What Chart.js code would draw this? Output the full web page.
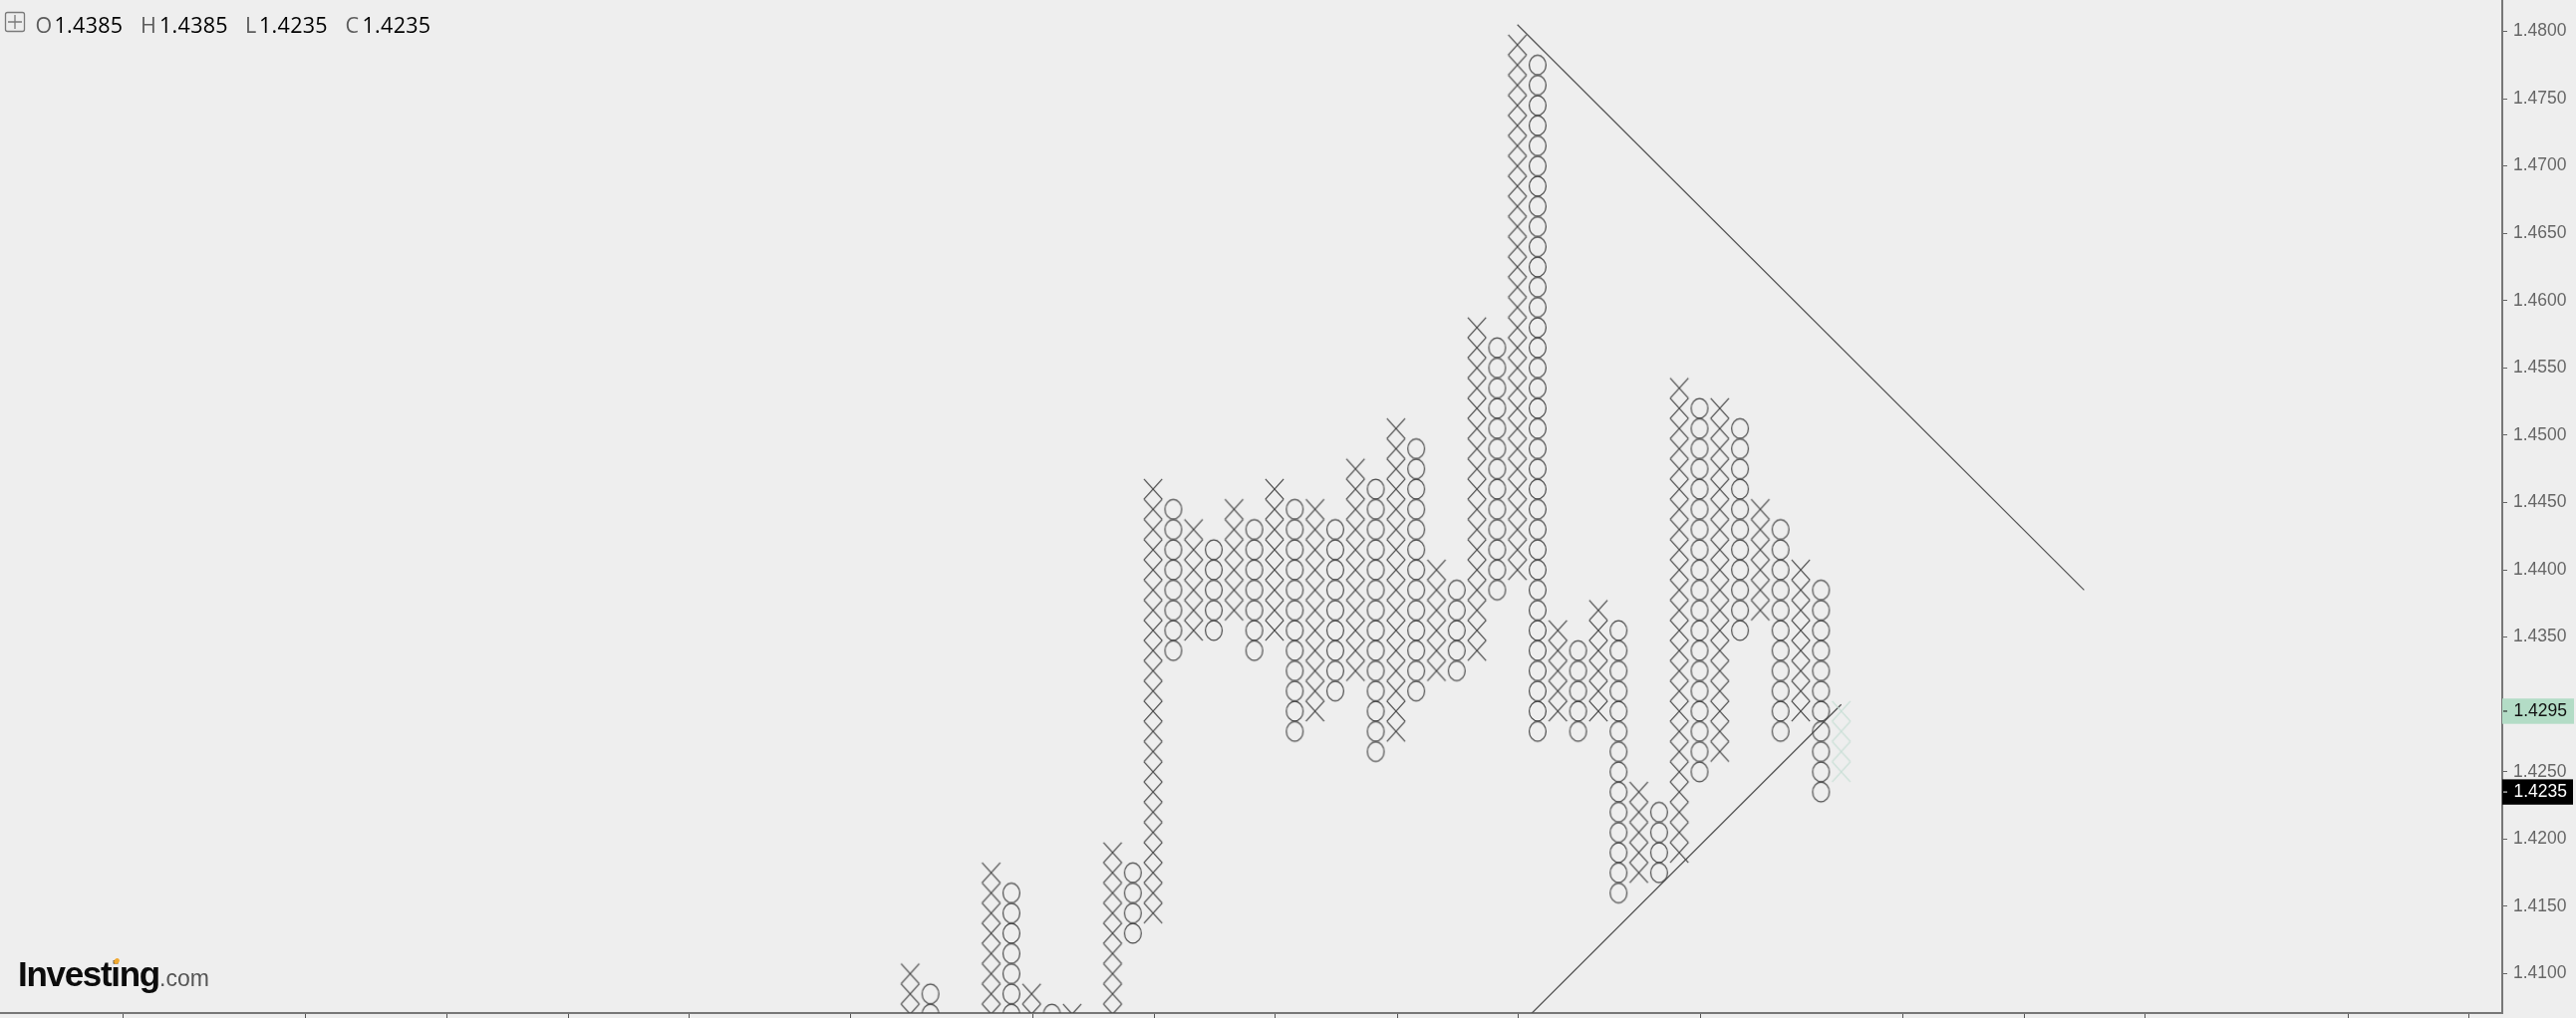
<!DOCTYPE html>
<html>
<head>
<meta charset="utf-8">
<style>
html,body{margin:0;padding:0;background:#eeeeee;overflow:hidden}
canvas{display:block}
</style>
<script src="https://cdn.jsdelivr.net/npm/chart.js@4"></script>
</head>
<body>
<canvas id="c" width="2585" height="1022"></canvas>
<script>
// Point & figure columns: even columns are X, odd columns are O. Box size 0.0015.
const columnHigh = [1.4100,1.4085,null,null,1.4175,1.4160,1.4085,1.4070,1.4070,null,
  1.4190,1.4175,1.4460,1.4445,1.4430,1.4415,1.4445,1.4430,1.4460,1.4445,
  1.4445,1.4430,1.4475,1.4460,1.4505,1.4490,1.4400,1.4385,1.4580,1.4565,
  1.4790,1.4775,1.4355,1.4340,1.4370,1.4355,1.4235,1.4220,1.4535,1.4520,
  1.4520,1.4505,1.4445,1.4430,1.4400,1.4385];
const columnLow = [1.4070,1.4070,null,null,1.4070,1.4070,1.4070,1.4070,1.4070,null,
  1.4070,1.4130,1.4145,1.4340,1.4355,1.4355,1.4370,1.4340,1.4355,1.4280,
  1.4295,1.4310,1.4325,1.4265,1.4280,1.4310,1.4325,1.4325,1.4340,1.4385,
  1.4400,1.4280,1.4295,1.4280,1.4295,1.4160,1.4175,1.4175,1.4190,1.4250,
  1.4265,1.4355,1.4370,1.4280,1.4295,1.4235];
const boxSize = 0.0015;
const ghostColumn = 46;
const ghostHigh = 1.4295;
const ghostLow = 1.4250;
const resistanceLine = [{x:30,y:1.4805},{x:58,y:1.4385}];
const supportLine = [{x:30,y:1.4060},{x:46,y:1.4300}];
const yTickValues = [1.41,1.415,1.42,1.425,1.435,1.44,1.445,1.45,1.455,1.46,1.465,1.47,1.475,1.48];
const xTickColumns = [-38.9,-29.9,-22.9,-16.9,-10.9,-2.95,6.08,12.08,18.05,24.08,30.05,39.03,49.03,55.03,61.03,71.03,77.03];
const lastTag = 1.4235;
const ghostTag = 1.4295;
const ohlc = [["O","1.4385"],["H","1.4385"],["L","1.4235"],["C","1.4235"]];

function boxes(col, high, low){
  const n = Math.round((high-low)/boxSize), out = [];
  for(let i=0;i<=n;i++) out.push({x:col,y:+(high-i*boxSize).toFixed(4)});
  return out;
}
const xPts=[], oPts=[];
columnHigh.forEach((h,i)=>{
  if(h===null) return;
  (i%2===0?xPts:oPts).push(...boxes(i,h,columnLow[i]));
});
const ghostPts = boxes(ghostColumn,ghostHigh,ghostLow);

function glyph(kind,color){
  const c=document.createElement('canvas'); c.width=26; c.height=26;
  const g=c.getContext('2d'); g.strokeStyle=color; g.lineWidth=1.15; g.translate(13,13);
  g.beginPath();
  if(kind==='x'){
    g.moveTo(-9.15,-10.13); g.lineTo(9.15,10.13);
    g.moveTo(9.15,-10.13); g.lineTo(-9.15,10.13);
  } else {
    g.ellipse(0,0,8.4,9.85,0,0,Math.PI*2);
  }
  g.stroke();
  return c;
}

const overlay = {
  id:'overlay',
  beforeDraw(ch){ const g=ch.ctx; g.save(); g.fillStyle='#eeeeee'; g.fillRect(0,0,ch.width,ch.height); g.restore(); },
  afterDraw(ch){
    const g=ch.ctx, yS=ch.scales.y, right=ch.chartArea.right;
    g.save();
    // price tags
    [[ghostTag,'#b3dcc6','#111111'],[lastTag,'#000000','#ffffff']].forEach(([v,bg,fg])=>{
      const y=yS.getPixelForValue(v);
      g.fillStyle=bg; g.fillRect(right,y-12.7,v===lastTag?71:72,25.4);
      g.strokeStyle=fg; g.lineWidth=1; g.beginPath(); g.moveTo(right+1,y); g.lineTo(right+5,y); g.stroke();
      g.fillStyle=fg; g.font='17.5px "Liberation Sans"'; g.textAlign='left'; g.textBaseline='middle';
      g.fillText(v.toFixed(4),2522.5,y+0.5);
    });
    // header icon
    g.strokeStyle='#7a7a7a'; g.lineWidth=1.3;
    g.beginPath(); g.roundRect(5.5,12.5,19,19,2); g.stroke();
    g.beginPath(); g.moveTo(15,15); g.lineTo(15,29); g.moveTo(8,22); g.lineTo(22,22); g.stroke();
    // header text
    g.font='21.5px "Open Sans"'; g.textBaseline='alphabetic'; g.textAlign='left';
    g.letterSpacing='0.3px';
    const lx=[35.5,141,246,346.5], nx=[54.5,160,260,363.5];
    ohlc.forEach(([a,b],i)=>{
      g.fillStyle='#5c5c5c'; g.fillText(a,lx[i],33);
      g.fillStyle='#000000'; g.fillText(b,nx[i],33);
    });
    // logo
    g.font='bold 35px "Liberation Sans"'; g.fillStyle='#0c0c0c';
    g.letterSpacing='-1.3px'; g.fillText('Investing',18,990);
    g.letterSpacing='0px';
    g.font='23px "Liberation Sans"'; g.fillStyle='#555555'; g.fillText('.com',160,990);
    g.fillStyle='#f0a830'; g.beginPath(); g.ellipse(117,965,3.2,2.4,-0.8,0,Math.PI*2); g.fill();
    g.restore();
  }
};

function noPad(s){ s.paddingLeft=0; s.paddingRight=0; s.paddingTop=0; s.paddingBottom=0; }

new Chart(document.getElementById('c'),{
  type:'scatter',
  data:{datasets:[
    {label:'X',data:xPts,pointStyle:glyph('x','#444444'),pointRadius:13,clip:0,showLine:false},
    {label:'O',data:oPts,pointStyle:glyph('o','#444444'),pointRadius:13,clip:0,showLine:false},
    {label:'Projected X',data:ghostPts,pointStyle:glyph('x','#c6ded4'),pointRadius:13,clip:0,showLine:false},
    {label:'Resistance',data:resistanceLine,showLine:true,pointRadius:0,borderColor:'#555555',borderWidth:1.3,clip:0},
    {label:'Support',data:supportLine,showLine:true,pointRadius:0,borderColor:'#555555',borderWidth:1.3,clip:0}
  ]},
  options:{
    responsive:false,animation:false,devicePixelRatio:1,
    layout:{padding:0,autoPadding:false},
    events:[],
    plugins:{legend:{display:false},tooltip:{enabled:false}},
    scales:{
      x:{type:'linear',position:'bottom',min:-44.97,max:78.66,
        afterBuildTicks(s){s.ticks=xTickColumns.map(v=>({value:v}));},
        afterFit(s){s.height=5;noPad(s);},
        ticks:{display:false,autoSkip:false},
        grid:{drawOnChartArea:false,drawTicks:true,tickLength:5,color:'#555555',lineWidth:1},
        border:{display:true,color:'#777777',width:2}},
      y:{type:'linear',position:'right',min:1.407080,max:1.482331,
        afterBuildTicks(s){s.ticks=yTickValues.map(v=>({value:v}));},
        afterFit(s){s.width=74;noPad(s);},
        ticks:{autoSkip:false,padding:6,color:'#666666',font:{family:'"Liberation Sans"',size:17.5},
          callback:v=>v.toFixed(4)},
        grid:{drawOnChartArea:false,drawTicks:true,tickLength:5,color:'#666666',lineWidth:1},
        border:{display:true,color:'#777777',width:2}}
    }
  },
  plugins:[overlay]
});
</script>
</body>
</html>
